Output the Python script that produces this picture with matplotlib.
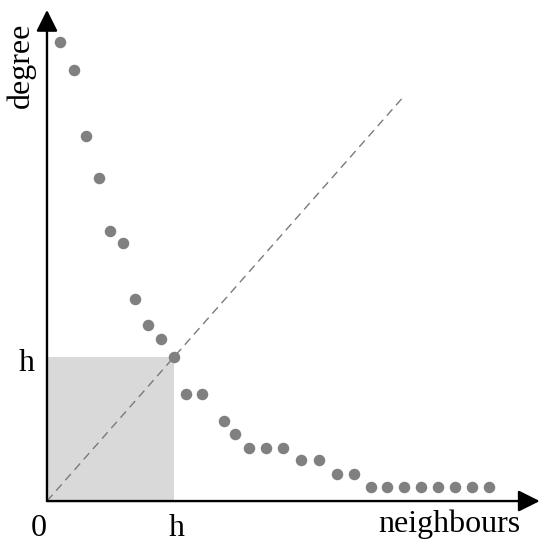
import matplotlib
matplotlib.use("Agg")
import matplotlib.pyplot as plt
import matplotlib.patches as mpatches

# valores (h = 10)
h = 10
vecinos = [1.05, 2.10, 3.07, 4.07, 4.96, 5.98, 6.93, 7.95, 8.95, 10.0,
           10.92, 12.2, 13.96, 14.83, 15.93, 17.22, 18.58, 20.0, 21.44, 22.81,
           24.15, 25.49, 26.80, 28.11, 29.43, 30.76, 32.13, 33.44, 34.78]
grado = [31.85, 29.95, 25.35, 22.45, 18.75, 17.9, 14.03, 12.22, 11.25, 10.0,
         7.41, 7.41, 5.56, 4.63, 3.70, 3.70, 3.70, 2.83, 2.83, 1.85,
         1.85, 0.95, 0.95, 0.95, 0.95, 0.95, 0.95, 0.95, 0.95]
diag_fin = 28.1
x_max = 38.8
y_max = 34.1

plt.rcParams['font.family'] = ['Liberation Serif', 'DejaVu Serif']

fig = plt.figure(figsize=(5.5, 5.48), dpi=100)
ax = fig.add_axes([0, 0, 1, 1])
ax.set_xlim(-3.70, 39.61)
ax.set_ylim(-3.26, 34.79)
ax.axis('off')

# cuadrado sombreado h x h
ax.add_patch(mpatches.Rectangle((0, 0), h, h, facecolor='#d9d9d9',
                                edgecolor='none', zorder=1))

# diagonal discontinua
ax.plot([0, diag_fin], [0, diag_fin], color='#7a7a7a', lw=1.0,
        linestyle=(0, (6, 4)), zorder=2)

# ejes con flecha
flecha = dict(arrowstyle='-|>,head_length=1.3,head_width=0.65',
              mutation_scale=10, lw=1.7, color='black',
              shrinkA=0, shrinkB=0)
ax.annotate('', xy=(x_max, 0), xytext=(0, 0), arrowprops=flecha, zorder=4)
ax.annotate('', xy=(0, y_max), xytext=(0, 0), arrowprops=flecha, zorder=4)

# puntos
ax.plot(vecinos, grado, 'o', color='#808080', markersize=8.3,
        markeredgewidth=0, zorder=3)

fs = 23
ax.text(-0.65, -2.45, '0', fontsize=fs, ha='center', va='baseline')
ax.text(h + 0.2, -2.45, 'h', fontsize=fs, ha='center', va='baseline')
ax.text(-1.57, h - 0.95, 'h', fontsize=fs, ha='center', va='baseline')
ax.text(31.7, -2.12, 'neighbours', fontsize=fs, ha='center', va='baseline')
ax.text(-2.0, 30.28, 'degree', fontsize=fs, ha='center', va='center',
        rotation=90)

fig.savefig('out.png', dpi=100)
